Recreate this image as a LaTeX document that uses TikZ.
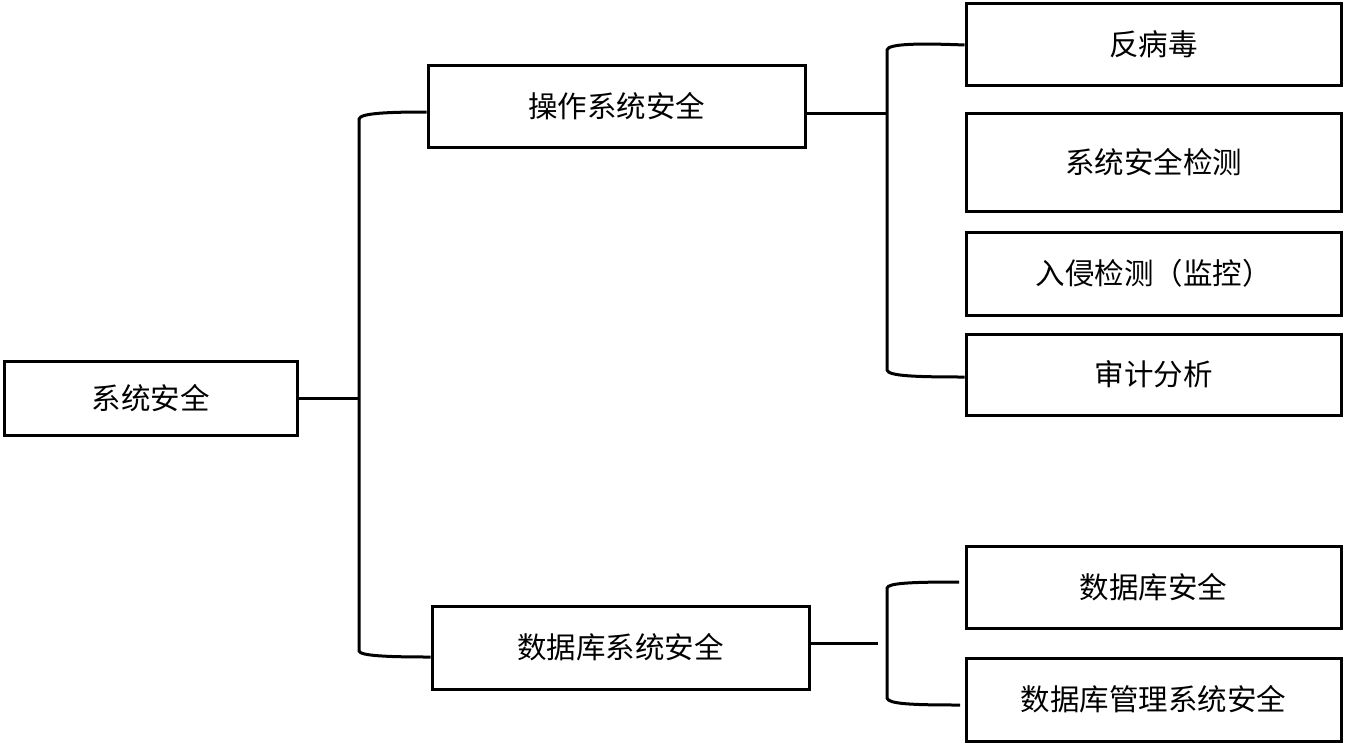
\documentclass[tikz,border=0pt]{standalone}
\usepackage{fontspec}
\newfontfamily\cjk{Noto Sans CJK SC}
\begin{document}
\begin{tikzpicture}[x=1pt,y=-1pt,
  box/.style={draw=black,line width=3pt,fill=white,inner sep=0pt,
    font=\cjk\fontsize{29.5}{34}\selectfont,text=black},
  conn/.style={draw=black,line width=3pt,line cap=butt}]
\useasboundingbox (0,0) rectangle (1346,745);
% boxes
\node[box,minimum width=293pt,minimum height=74pt] (root) at (150.5,398) {系统安全};
\node[box,minimum width=377pt,minimum height=82pt] (os) at (616.5,106) {操作系统安全};
\node[box,minimum width=377pt,minimum height=83pt] (db) at (620.5,647.5) {数据库系统安全};
\node[box,minimum width=375pt,minimum height=82pt] (a1) at (1153.5,44) {反病毒};
\node[box,minimum width=375pt,minimum height=98pt] (a2) at (1153.5,162) {系统安全检测};
\node[box,minimum width=375pt,minimum height=83pt] (a3) at (1153.5,273.5) {入侵检测（监控）};
\node[box,minimum width=375pt,minimum height=81pt] (a4) at (1153.5,374.5) {审计分析};
\node[box,minimum width=375pt,minimum height=82pt] (b1) at (1153.5,587) {数据库安全};
\node[box,minimum width=375pt,minimum height=83pt] (b2) at (1153.5,699.5) {数据库管理系统安全};
% junction coordinates
\coordinate (j1) at (359,398);
\coordinate (j2) at (887,113);
\coordinate (j3) at (878,643);
\coordinate (b1in) at (959,582);
\coordinate (b2in) at (960,705);
% left bracket
\draw[conn] (root.east) -- (j1);
\draw[conn] ([yshift=-6pt]os.west) .. controls (390,112) and (360,113) .. (359,119)
  -- (359,651) .. controls (360,656) and (390,657) .. ([yshift=-9.5pt]db.west);
% upper right bracket
\draw[conn] ([yshift=-7pt]os.east) -- (j2);
\draw[conn] ([yshift=-1pt]a1.west) .. controls (915,43) and (888,44) .. (887,50)
  -- (887,370) .. controls (888,376) and (915,377) .. ([yshift=-2.5pt]a4.west);
% lower right bracket
\draw[conn] ([yshift=4.5pt]db.east) -- (j3);
\draw[conn] (b1in) .. controls (912,582) and (888,583) .. (887,588)
  -- (887,698) .. controls (888,704) and (912,705) .. (b2in);
\end{tikzpicture}
\end{document}
